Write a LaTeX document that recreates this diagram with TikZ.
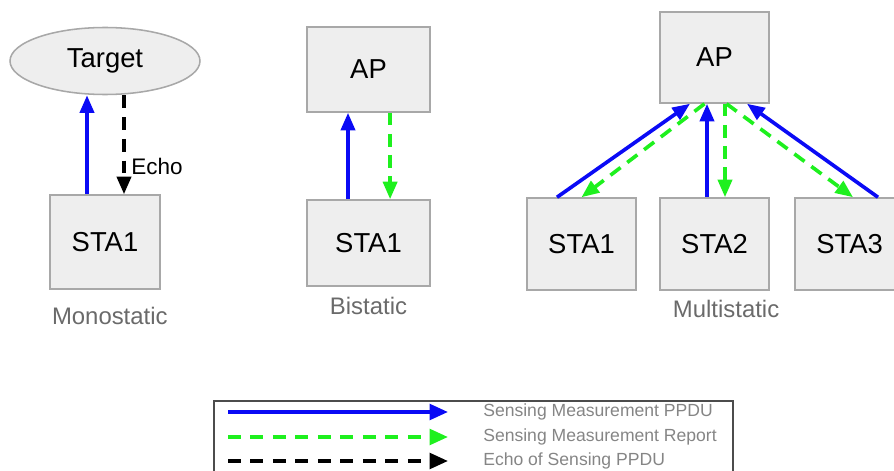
\documentclass[tikz,border=0pt]{standalone}
\usepackage{fontspec}
\setmainfont{Liberation Sans}
\usetikzlibrary{positioning, arrows.meta, shapes.geometric}

\definecolor{boxline}{HTML}{A8A8A8}
\definecolor{boxfill}{HTML}{EEEEEE}
\definecolor{capgray}{HTML}{6A6A6A}
\definecolor{keygray}{HTML}{858585}
\definecolor{ppdublue}{HTML}{0A0AF5}
\definecolor{reportgreen}{HTML}{1EF01E}

\tikzset{
  > = {Triangle[length = 12.5pt, width = 10pt]},
  station/.style = {draw = boxline, fill = boxfill, line width = 1.1pt,
    font = \fontsize{19.5}{22}\selectfont,
    minimum width = 2.75cm, minimum height = 2.35cm},
  target/.style = {station, ellipse, minimum width = 4.75cm,
    minimum height = 1.675cm},
  caption/.style = {text = capgray, font = \fontsize{17}{20}\selectfont},
  keytext/.style = {text = keygray, font = \fontsize{12.5}{14}\selectfont,
    anchor = west, inner sep = 0pt},
  ppdu/.style = {->, draw = ppdublue, line width = 2.6pt},
  report/.style = {->, draw = reportgreen, line width = 2.6pt,
    dash pattern = on 9pt off 6pt},
  echo/.style = {->, draw = black, line width = 2.6pt,
    dash pattern = on 9pt off 6.5pt}
}

\begin{document}
\begin{tikzpicture}

\useasboundingbox (0,0) rectangle (22.35,-11.75);

%% Monostatic
\node [target] (tgt) at (2.625,-1.525) {Target};
\node [station] (mono) at (2.625,-6.05) {STA1};
\node [caption] (monocap) [below = 0.3cm of mono, xshift = 0.12cm] {Monostatic};

\draw [ppdu] ([xshift = -0.45cm] mono.north) -- ([xshift = -0.45cm] mono.north |- tgt.south);
\draw [echo] ([xshift = 0.475cm] mono.north |- tgt.south) -- ([xshift = 0.475cm] mono.north)
  node [pos = 0.72, right = 4pt, font = \fontsize{16}{18}\selectfont, inner sep = 0pt] (echolbl) {Echo};

%% Bistatic
\node [station, minimum width = 3.075cm, minimum height = 2.125cm] (biap) at (9.2125,-1.7375) {AP};
\node [station, minimum width = 3.075cm, minimum height = 2.15cm] (bista) at (9.2125,-6.075) {STA1};
\node [caption] (bicap) [below = 0.14cm of bista] {Bistatic};

\draw [ppdu] ([xshift = -0.5125cm] bista.north) -- ([xshift = -0.5125cm] biap.south);
\draw [report] ([xshift = 0.54cm] biap.south) -- ([xshift = 0.54cm] bista.north);

%% Multistatic
\node [station, minimum width = 2.725cm, minimum height = 2.275cm] (ap) at (17.8625,-1.4375) {AP};
\node [station, minimum width = 2.725cm, minimum height = 2.3cm] (sta1) at (14.5375,-6.1) {STA1};
\node [station, minimum width = 2.725cm, minimum height = 2.3cm] (sta2) at (17.8625,-6.1) {STA2};
\node [station, minimum width = 2.725cm, minimum height = 2.3cm] (sta3) at (21.2375,-6.1) {STA3};
\node [caption] (multicap) [below = 0.12cm of sta2, xshift = 0.29cm] {Multistatic};

\draw [ppdu] ([xshift = -0.6125cm] sta1.north) -- ([xshift = -0.6125cm] ap.south);
\draw [report] ([xshift = -0.25cm] ap.south) -- (sta1.north);
\draw [ppdu] ([xshift = -0.1875cm] sta2.north) -- ([xshift = -0.1875cm] ap.south);
\draw [report] ([xshift = 0.2625cm] ap.south) -- ([xshift = 0.2625cm] sta2.north);
\draw [ppdu] ([xshift = 0.7125cm] sta3.north) -- ([xshift = 0.8125cm] ap.south);
\draw [report] ([xshift = 0.3cm] ap.south) -- ([xshift = 0.0875cm] sta3.north);

%% Legend
\draw [draw = black!70, line width = 1.4pt] (5.35,-12.1) |- (18.325,-10.025) -- (18.325,-12.1);

\coordinate (k1a) at (5.7,-10.3);   \coordinate (k1b) at (11.2,-10.3);
\coordinate (k2a) at (5.7,-10.925); \coordinate (k2b) at (11.2,-10.925);
\coordinate (k3a) at (5.7,-11.525); \coordinate (k3b) at (11.2,-11.525);

\draw [ppdu, > = {Triangle[length = 13pt, width = 11pt]}] (k1a) -- (k1b);
\draw [report, > = {Triangle[length = 13pt, width = 11pt]}, dash pattern = on 9pt off 7pt] (k2a) -- (k2b);
\draw [echo, > = {Triangle[length = 13pt, width = 11pt]}, dash pattern = on 9pt off 7pt] (k3a) -- (k3b);

\node [keytext] (k1) at (12.075,-10.3) {Sensing Measurement PPDU};
\node [keytext] (k2) at (12.075,-10.925) {Sensing Measurement Report};
\node [keytext] (k3) at (12.075,-11.525) {Echo of Sensing PPDU};

\end{tikzpicture}
\end{document}
